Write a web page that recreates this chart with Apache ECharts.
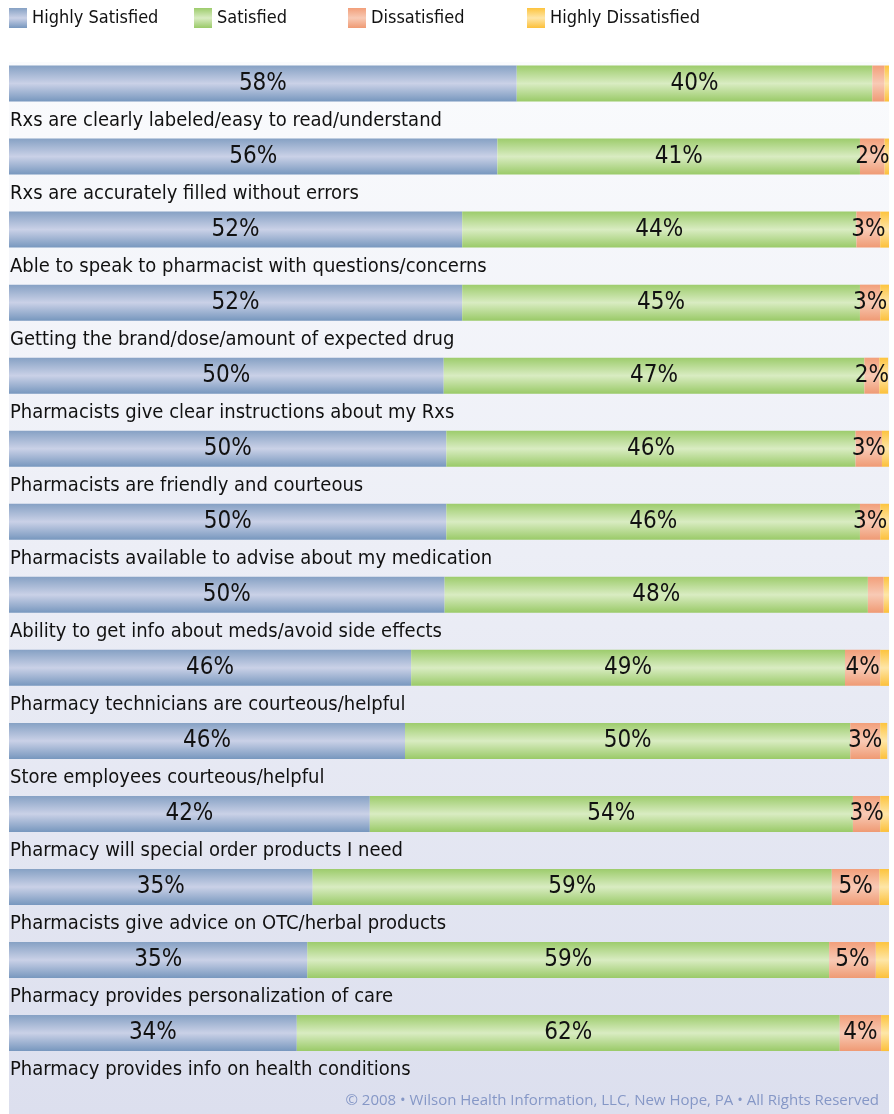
<!DOCTYPE html>
<html>
<head>
<meta charset="utf-8">
<script src="https://cdn.jsdelivr.net/npm/echarts@6/dist/echarts.min.js"></script>
<style>
html,body{margin:0;padding:0;background:#fff;}
#chart{width:894px;height:1114px;}
</style>
</head>
<body>
<div id="chart"></div>
<script>
const categories = [
  'Rxs are clearly labeled/easy to read/understand',
  'Rxs are accurately filled without errors',
  'Able to speak to pharmacist with questions/concerns',
  'Getting the brand/dose/amount of expected drug',
  'Pharmacists give clear instructions about my Rxs',
  'Pharmacists are friendly and courteous',
  'Pharmacists available to advise about my medication',
  'Ability to get info about meds/avoid side effects',
  'Pharmacy technicians are courteous/helpful',
  'Store employees courteous/helpful',
  'Pharmacy will special order products I need',
  'Pharmacists give advice on OTC/herbal products',
  'Pharmacy provides personalization of care',
  'Pharmacy provides info on health conditions'
];
const seriesNames = ['Highly Satisfied', 'Satisfied', 'Dissatisfied', 'Highly Dissatisfied'];
const highlySatisfied    = [57.7, 55.5, 51.5, 51.5, 49.4, 49.7, 49.7, 49.5, 45.7, 45.0, 41.0, 34.5, 33.9, 32.7];
const satisfied          = [40.4, 41.2, 44.8, 45.2, 47.8, 46.5, 47.0, 48.1, 49.3, 50.6, 54.9, 59.0, 59.3, 61.7];
const dissatisfied       = [1.4, 2.8, 2.7, 2.3, 1.7, 3.0, 2.3, 1.8, 4.0, 3.4, 3.1, 5.4, 5.3, 4.7];
const highlyDissatisfied = [0.6, 0.5, 1.0, 1.0, 1.0, 0.9, 1.0, 0.6, 1.0, 0.8, 1.0, 1.1, 1.5, 0.9];
const highlySatisfiedLabels = ['58%','56%','52%','52%','50%','50%','50%','50%','46%','46%','42%','35%','35%','34%'];
const satisfiedLabels       = ['40%','41%','44%','45%','47%','46%','46%','48%','49%','50%','54%','59%','59%','62%'];
const dissatisfiedLabels    = ['','2%','3%','3%','2%','3%','3%','','4%','3%','3%','5%','5%','4%'];
const highlyDissatisfiedLabels = ['','','','','','','','','','','','','',''];
const copyright = '\u00a9 2008 \u2022 Wilson Health Information, LLC, New Hope, PA \u2022 All Rights Reserved';

const FONT = "'Liberation Sans Narrow', 'DejaVu Sans Condensed', 'Liberation Sans', sans-serif";
function grad(edgeTop, mid, edgeBot) {
  return new echarts.graphic.LinearGradient(0, 0, 0, 1, [
    {offset: 0, color: edgeTop},
    {offset: 0.5, color: mid},
    {offset: 1, color: edgeBot}
  ]);
}
const colors = [
  grad('#86a1c4', '#cad1e7', '#7797be'),
  grad('#9dcc6c', '#d9ecc2', '#9aca68'),
  grad('#f29f7a', '#f8cab5', '#ef9a74'),
  grad('#fdc43e', '#fee6a8', '#fcc03a')
];
const values = [highlySatisfied, satisfied, dissatisfied, highlyDissatisfied];
const labels = [highlySatisfiedLabels, satisfiedLabels, dissatisfiedLabels, highlyDissatisfiedLabels];
const legendLefts = [4, 189, 343, 522];

const chart = echarts.init(document.getElementById('chart'), null, {renderer: 'canvas'});
chart.setOption({
  animation: false,
  backgroundColor: '#ffffff',
  graphic: [{
    type: 'rect',
    left: 9, top: 62, z: -10,
    shape: {width: 880, height: 1052},
    style: {fill: new echarts.graphic.LinearGradient(0, 0, 0, 1, [
      {offset: 0, color: '#fafbfd'},
      {offset: 1, color: '#dcdfee'}
    ])},
    silent: true
  }],
  title: {
    text: copyright,
    right: 10, top: 1088,
    textStyle: {fontFamily: "'Open Sans', 'Liberation Sans', sans-serif", fontSize: 15, fontWeight: 'normal', color: '#8597c6'}
  },
  legend: seriesNames.map((n, i) => ({
    data: [n],
    left: legendLefts[i], top: 3,
    itemWidth: 18, itemHeight: 20, itemGap: 0,
    icon: 'rect',
    textStyle: {fontFamily: FONT, fontSize: 18, color: '#111'}
  })),
  grid: {left: 9, right: 5, top: 47, bottom: 44.4, containLabel: false},
  xAxis: {type: 'value', min: 0, max: 100, show: false},
  yAxis: {
    type: 'category', data: categories, inverse: true,
    axisLine: {show: false}, axisTick: {show: false}, splitLine: {show: false},
    axisLabel: {
      inside: true, margin: 1, interval: 0,
      verticalAlign: 'top', align: 'left',
      padding: [25, 0, 0, 0],
      fontFamily: FONT, fontSize: 20, lineHeight: 24, color: '#111'
    }
  },
  series: seriesNames.map((n, i) => ({
    name: n, type: 'bar', stack: 'total', barWidth: 36,
    data: values[i],
    itemStyle: {color: colors[i]},
    label: {
      show: true, position: 'inside',
      fontFamily: FONT, fontSize: 24, color: '#111',
      formatter: p => labels[i][p.dataIndex]
    }
  }))
});
</script>
</body>
</html>
